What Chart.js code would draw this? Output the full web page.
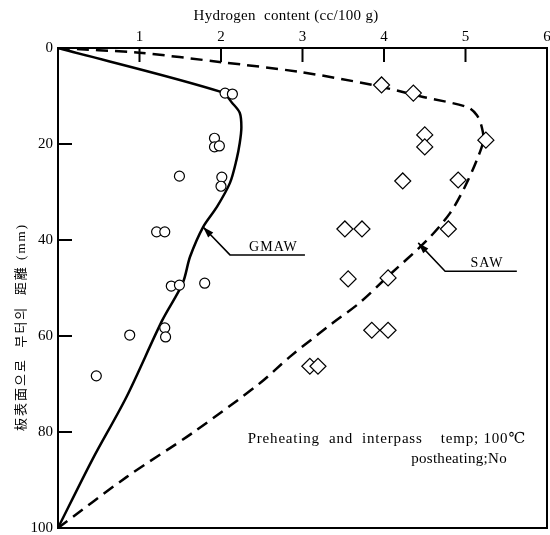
<!DOCTYPE html>
<html lang="ko">
<head>
  <meta charset="UTF-8" />
  <title>Hydrogen content</title>
  <script src="https://cdn.jsdelivr.net/npm/chart.js@4.4.1/dist/chart.umd.min.js"></script>
  <style>
    body {
      margin: 0;
      padding: 0;
      background-color: #fff;
    }
    canvas {
      display: block;
    }
  </style>
</head>
<body>
  <canvas id="chart" width="550" height="535" style="width:550px;height:535px"></canvas>

<script>
  // x ticks (top) and y ticks (left, reversed)
  const xTicks = [1, 2, 3, 4, 5, 6];
  const yTicks = [0, 20, 40, 60, 80, 100];

  // measured points (circles = GMAW, diamonds = SAW)
  const gmawPtX = [2.05, 2.14, 1.92, 1.92, 1.98, 1.49, 2.01, 2.0, 1.21, 1.31, 1.39, 1.49, 1.80, 1.31, 1.32, 0.88, 0.47];
  const gmawPtY = [9.4, 9.6, 18.8, 20.6, 20.4, 26.7, 26.9, 28.8, 38.3, 38.3, 49.6, 49.4, 49.0, 58.3, 60.2, 59.8, 68.3];
  const sawPtX = [3.97, 4.36, 4.50, 4.50, 5.25, 4.23, 4.91, 3.52, 3.73, 4.79, 3.56, 4.05, 3.85, 4.05, 3.09, 3.19];
  const sawPtY = [7.7, 9.4, 18.1, 20.6, 19.2, 27.7, 27.5, 37.7, 37.7, 37.7, 48.1, 47.9, 58.8, 58.8, 66.3, 66.3];

  // fitted curves
  const gmawLineX = [0, 2.01, 2.14, 2.23, 2.25, 2.23, 2.19, 2.11, 1.95, 1.78, 1.62, 1.53, 1.28, 0.84, 0.42, 0];
  const gmawLineY = [0, 9.2, 11.5, 13.5, 16.5, 19.8, 23.3, 28.1, 33.1, 37.3, 43.5, 49.0, 56.7, 72.7, 85.8, 100];
  const sawLineX = [0, 1.0, 1.98, 2.97, 3.86, 4.48, 5.02, 5.14, 5.20, 5.22, 5.14, 4.99, 4.81, 4.53, 4.04, 3.70, 3.37, 2.84, 2.48, 1.65, 0.84, 0];
  const sawLineY = [0, 1.0, 2.9, 5.0, 7.7, 10.2, 12.3, 14.0, 16.5, 19.2, 23.3, 29.0, 34.4, 40.0, 47.7, 53.1, 57.3, 64.4, 69.8, 80.2, 89.4, 100];

  const serif = "'Liberation Serif', 'DejaVu Serif', serif";
  const cjk = "'Liberation Serif', 'Noto Sans CJK KR', serif";

  function zip(xs, ys) {
    return xs.map((x, i) => ({ x: x, y: ys[i] }));
  }

  // frame, inward ticks, leaders and notes
  const extras = {
    id: 'extras',
    beforeDraw(chart) {
      const ctx = chart.ctx;
      ctx.save();
      ctx.fillStyle = '#fff';
      ctx.fillRect(0, 0, chart.width, chart.height);
      ctx.restore();
    },
    afterDraw(chart) {
      const ctx = chart.ctx;
      const xs = chart.scales.x;
      const ys = chart.scales.y;
      const a = chart.chartArea;
      ctx.save();
      ctx.strokeStyle = '#000';
      ctx.fillStyle = '#000';

      // right and bottom frame
      ctx.lineWidth = 2;
      ctx.beginPath();
      ctx.moveTo(a.right, a.top);
      ctx.lineTo(a.right, a.bottom);
      ctx.lineTo(a.left, a.bottom);
      ctx.stroke();

      // inward tick marks
      xTicks.slice(0, -1).forEach(v => {
        const px = xs.getPixelForValue(v);
        ctx.beginPath();
        ctx.moveTo(px, a.top);
        ctx.lineTo(px, a.top + 14);
        ctx.stroke();
      });
      yTicks.slice(1, -1).forEach(v => {
        const py = ys.getPixelForValue(v);
        ctx.beginPath();
        ctx.moveTo(a.left, py);
        ctx.lineTo(a.left + 14, py);
        ctx.stroke();
      });

      // leader lines with arrows
      function leader(tip, bend, end, label) {
        const tx = xs.getPixelForValue(tip[0]), ty = ys.getPixelForValue(tip[1]);
        const bx = xs.getPixelForValue(bend[0]), by = ys.getPixelForValue(bend[1]);
        const ex = xs.getPixelForValue(end[0]);
        ctx.lineWidth = 1.5;
        ctx.beginPath();
        ctx.moveTo(tx, ty);
        ctx.lineTo(bx, by);
        ctx.lineTo(ex, by);
        ctx.stroke();
        const ang = Math.atan2(ty - by, tx - bx);
        ctx.beginPath();
        ctx.moveTo(tx, ty);
        ctx.lineTo(tx - 11 * Math.cos(ang) + 3.5 * Math.sin(ang), ty - 11 * Math.sin(ang) - 3.5 * Math.cos(ang));
        ctx.lineTo(tx - 11 * Math.cos(ang) - 3.5 * Math.sin(ang), ty - 11 * Math.sin(ang) + 3.5 * Math.cos(ang));
        ctx.closePath();
        ctx.fill();
        ctx.font = '14px ' + serif;
        ctx.letterSpacing = '1px';
        ctx.textAlign = 'center';
        ctx.textBaseline = 'alphabetic';
        ctx.fillText(label, (bx + ex) / 2 + 6, by - 4);
      }
      leader([1.78, 37.3], [2.11, 43.1], [3.03], 'GMAW');
      leader([4.42, 40.6], [4.75, 46.5], [5.63], 'SAW');

      // notes
      ctx.font = '15px ' + serif;
      ctx.textAlign = 'right';
      ctx.letterSpacing = '0.8px';
      ctx.fillText('Preheating  and  interpass    temp; 100\u2103', 526, 443);
      ctx.letterSpacing = '0.3px';
      ctx.fillText('postheating;No', 507, 463);

      // axis titles
      ctx.letterSpacing = '0.3px';
      ctx.font = '15px ' + serif;
      ctx.textAlign = 'center';
      ctx.fillText('Hydrogen  content (cc/100 g)', 286, 20);

      ctx.translate(22, 327);
      ctx.rotate(-Math.PI / 2);
      ctx.font = '13px ' + cjk;
      ctx.letterSpacing = '2px';
      ctx.textBaseline = 'middle';
      ctx.fillText('板表面으로  부터의  距離 (mm)', 0, 0);
      ctx.restore();
    }
  };

  new Chart(document.getElementById('chart'), {
    type: 'scatter',
    data: {
      datasets: [
        {
          label: 'GMAW data',
          data: zip(gmawPtX, gmawPtY),
          pointStyle: 'circle',
          pointRadius: 5,
          backgroundColor: '#fff',
          borderColor: '#000',
          borderWidth: 1.2
        },
        {
          label: 'SAW data',
          data: zip(sawPtX, sawPtY),
          pointStyle: 'rectRot',
          pointRadius: 8,
          backgroundColor: '#fff',
          borderColor: '#000',
          borderWidth: 1.2
        },
        {
          label: 'GMAW',
          data: zip(gmawLineX, gmawLineY),
          showLine: true,
          pointRadius: 0,
          borderColor: '#000',
          borderWidth: 2.5,
          tension: 0.3,
          fill: false
        },
        {
          label: 'SAW',
          data: zip(sawLineX, sawLineY),
          showLine: true,
          pointRadius: 0,
          borderColor: '#000',
          borderWidth: 2.5,
          borderDash: [12, 7],
          tension: 0.3,
          fill: false
        }
      ]
    },
    options: {
      responsive: false,
      devicePixelRatio: 1,
      animation: false,
      layout: {
        autoPadding: false,
        padding: { top: 0, left: 0, right: 3, bottom: 7 }
      },
      plugins: {
        legend: { display: false },
        tooltip: { enabled: false }
      },
      scales: {
        x: {
          type: 'linear',
          position: 'top',
          min: 0,
          max: 6,
          afterFit(scale) {
            scale.height = 48;
            scale.paddingLeft = 0;
            scale.paddingRight = 0;
          },
          afterBuildTicks(scale) { scale.ticks = xTicks.map(v => ({ value: v })); },
          ticks: {
            color: '#000',
            padding: 2,
            font: { family: serif, size: 15 }
          },
          grid: { display: false, drawTicks: false },
          border: { display: true, color: '#000', width: 2 }
        },
        y: {
          type: 'linear',
          reverse: true,
          min: 0,
          max: 100,
          afterFit(scale) {
            scale.width = 58;
            scale.paddingTop = 0;
            scale.paddingBottom = 0;
          },
          afterBuildTicks(scale) { scale.ticks = yTicks.map(v => ({ value: v })); },
          ticks: {
            color: '#000',
            padding: 5,
            font: { family: serif, size: 15 }
          },
          grid: { display: false, drawTicks: false },
          border: { display: true, color: '#000', width: 2 }
        }
      }
    },
    plugins: [extras]
  });
</script>
</body>
</html>
